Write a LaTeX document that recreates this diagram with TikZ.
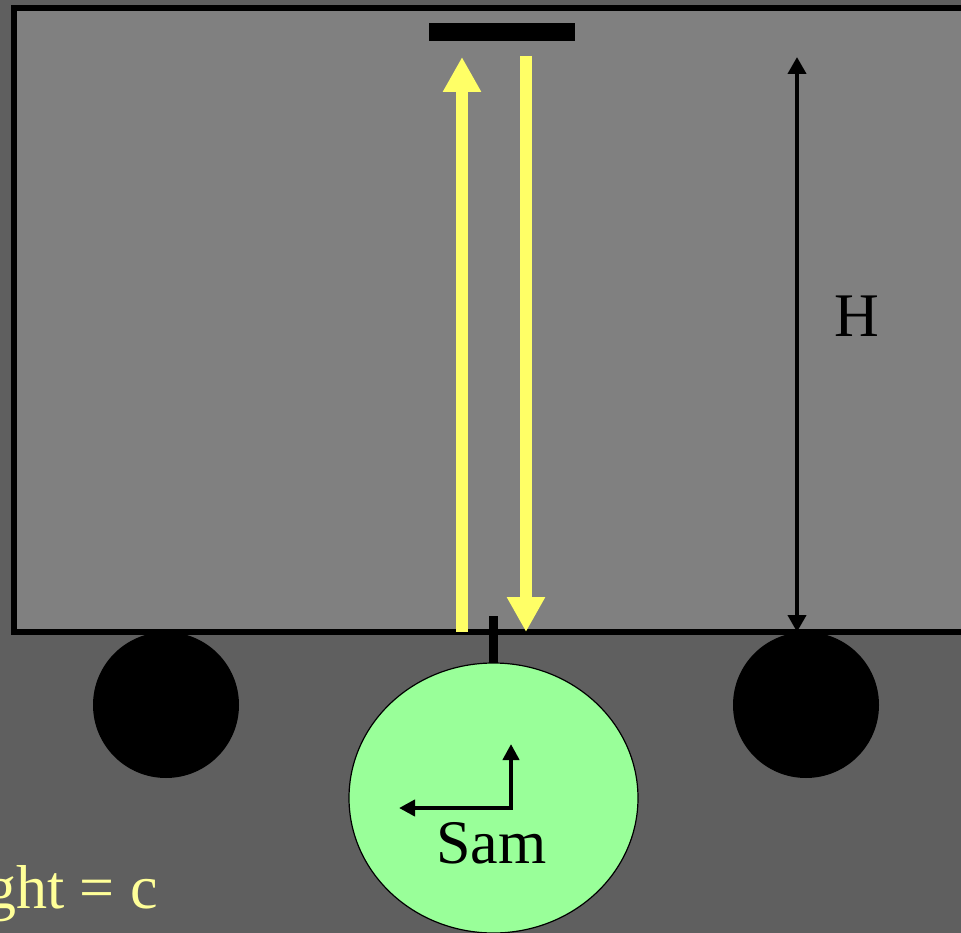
\documentclass[tikz,border=0pt]{standalone}
\usepackage{fontspec}
\setmainfont{Liberation Serif}
\usetikzlibrary{arrows.meta,shapes.geometric}
\definecolor{bgdark}{HTML}{5F5F5F}
\definecolor{boxgray}{HTML}{808080}
\definecolor{beamyellow}{HTML}{FFFF66}
\definecolor{textyellow}{HTML}{FFFF99}
\definecolor{samgreen}{HTML}{99FF99}
\tikzset{
  beam/.style={draw=beamyellow, line width=12pt, -{Triangle[width=36pt,length=35pt]}},
  wheel/.style={circle, fill=black, minimum size=146pt, inner sep=0pt},
  dimarrow/.style={draw=black, line width=4pt, {Triangle[width=18pt,length=17pt]}-{Triangle[width=18pt,length=17pt]}},
  axes/.style={draw=black, line width=4.5pt, {Triangle[width=16pt,length=16pt]}-{Triangle[width=16pt,length=16pt]}},
  bigtext/.style={font=\fontsize{62pt}{70pt}\selectfont, inner sep=0pt}
}
\begin{document}
\begin{tikzpicture}[x=1pt,y=-1pt]
\useasboundingbox (0,0) rectangle (961,933);
\clip (0,0) rectangle (961,933);
\fill[bgdark] (0,0) rectangle (961,933);
% train car
\node[draw=black, line width=5.5pt, fill=boxgray, minimum width=990pt, minimum height=624pt, inner sep=0pt, outer sep=0pt, anchor=north west] (car) at (14,8) {};
% mirror
\node[fill=black, minimum width=146pt, minimum height=18pt, inner sep=0pt] (mirror) at (502,32) {};
% wheels
\node[wheel] (wl) at (166,705) {};
\node[wheel] (wr) at (806,705) {};
% Sam
\node[ellipse, draw=black, line width=1.2pt, fill=samgreen, minimum width=289pt, minimum height=270pt, inner sep=0pt, outer sep=0pt] (sam) at (493.5,798) {};
\node[bigtext, anchor=base] (samlabel) at (491.5,863) {Sam};
% coordinates
\coordinate (upstart) at (462,632);
\coordinate (upend) at (462,57);
\coordinate (dnstart) at (526,56);
\coordinate (dnend) at (526,632);
\coordinate (htop) at (797,57);
\coordinate (hbot) at (797,632);
\coordinate (ticktop) at (493.5,616);
\coordinate (corner) at (511,808);
\coordinate (axup) at (511,744);
\coordinate (axleft) at (399,808);
% beams
\draw[beam] (upstart) -- (upend);
\draw[beam] (dnstart) -- (dnend);
% H dimension
\draw[dimarrow] (htop) -- (hbot);
\node[bigtext] (hlabel) at (857,316) {H};
% tick
\draw[black, line width=8.5pt] (ticktop) -- (sam.north);
% axes
\draw[axes] (axleft) -- (corner) -- (axup);
% light text
\node[bigtext, anchor=base east, text=textyellow] (light) at (158,908) {ght = c};
\end{tikzpicture}
\end{document}
